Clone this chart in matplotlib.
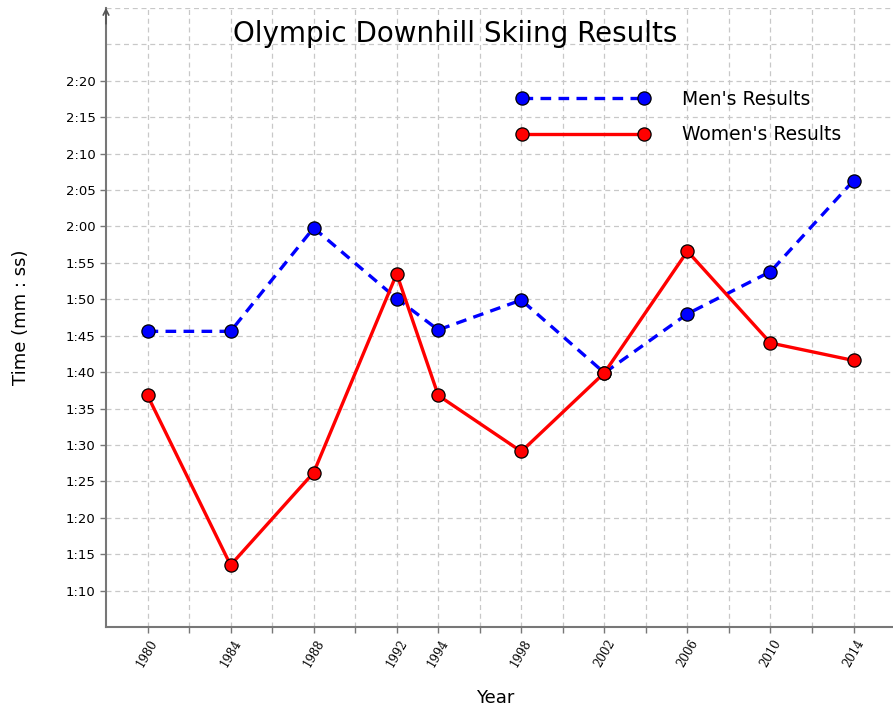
import numpy as np
import matplotlib.pyplot as plt
from matplotlib.ticker import FuncFormatter, MultipleLocator

# Olympic downhill winning times, in seconds
years = [1980, 1984, 1988, 1992, 1994, 1998, 2002, 2006, 2010, 2014]
men = [105.6, 105.6, 119.8, 110.1, 105.8, 109.9, 99.9, 108.0, 113.8, 126.3]
women = [96.8, 73.5, 86.2, 113.5, 96.8, 89.1, 99.9, 116.6, 104.0, 101.6]

fig = plt.figure(figsize=(8.93, 7.12), dpi=100)
ax = fig.add_axes([106 / 893, 1 - 627 / 712, 1 - 106 / 893, (627 - 8) / 712])

ax.plot(years, men, color='#0000ff', lw=2.4, ls=(0, (3.2, 2.2)),
        marker='o', ms=9.5, mfc='#0000ff', mec='black', mew=0.9,
        label="Men's Results", zorder=3)
ax.plot(years, women, color='#ff0000', lw=2.4,
        marker='o', ms=9.5, mfc='#ff0000', mec='black', mew=0.9,
        label="Women's Results", zorder=3)

ax.set_xlim(1978, 2015.9)
ax.set_ylim(65, 150)

# ticks every 2 years, labels only for games years
xt = np.arange(1980, 2016, 2)
ax.set_xticks(xt)
ax.set_xticklabels([str(y) if y in years else '' for y in xt],
                   rotation=60, family='DejaVu Serif', fontsize=8.5)
ax.yaxis.set_major_locator(MultipleLocator(5))
ax.yaxis.set_major_formatter(FuncFormatter(
    lambda v, p: '%d:%02d' % (v // 60, v % 60) if 70 <= v <= 140 else ''))
for lab in ax.get_yticklabels():
    lab.set_fontsize(9.5)

ax.grid(True, color='#c8c8c8', ls=(0, (4, 3)), lw=0.9)
ax.set_axisbelow(True)
for s in ['top', 'right']:
    ax.spines[s].set_visible(False)
for s in ['left', 'bottom']:
    ax.spines[s].set_color('#777777')
    ax.spines[s].set_linewidth(1.5)
ax.tick_params(colors='#777777', length=4, width=1, labelcolor='black')
# hide ticks at 1:05 and 2:25 / 2:30
for t in ax.yaxis.get_major_ticks():
    if not 70 <= t.get_loc() <= 140:
        t.tick1line.set_visible(False)

ax.annotate('', xy=(0, 1.005), xytext=(0, 0.97), xycoords='axes fraction',
            arrowprops=dict(arrowstyle='->', color='#555555', lw=1.2,
                            mutation_scale=10))

ax.set_xlabel('Year', fontsize=13)
ax.xaxis.set_label_coords(0.495, -0.1)
ax.set_ylabel('Time (mm : ss)', fontsize=13)
ax.yaxis.set_label_coords(-0.096, 0.5)

fig.text(455 / 893, 1 - 34 / 712, 'Olympic Downhill Skiing Results',
         fontsize=20, ha='center', va='center')

ax.legend(loc='upper left', bbox_to_anchor=(0.5, 0.895), frameon=False,
          fontsize=13.5, handlelength=7.1, numpoints=2, handletextpad=1.75,
          labelspacing=0.87)

fig.savefig('out.png', dpi=100)
